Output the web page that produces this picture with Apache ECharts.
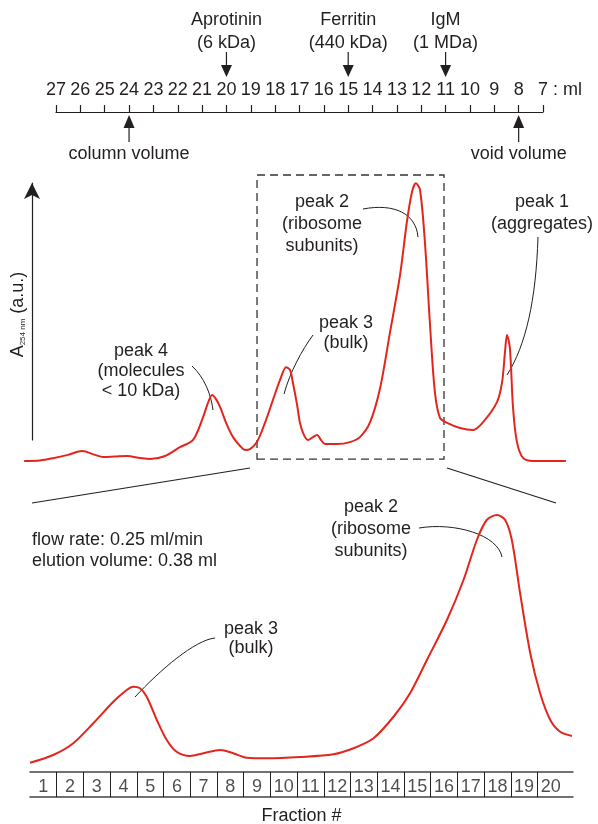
<!DOCTYPE html>
<html>
<head>
<meta charset="utf-8">
<script src="https://cdn.jsdelivr.net/npm/echarts@6/dist/echarts.min.js"></script>
<style>
  body { margin: 0; background: #fff; }
  #chart { width: 598px; height: 824px; }
</style>
</head>
<body>
<div id="chart"></div>
<script>
// upper chromatogram, elution volume (ml) vs absorbance (a.u.)
const upperMl = [28.31, 27.66, 27.12, 26.51, 25.93, 25.40, 25.07, 24.58, 24.08, 23.55,
  23.14, 22.52, 21.91, 21.37, 20.96, 20.76, 20.59, 20.43, 20.26, 19.98,
  19.73, 19.44, 19.24, 19.03, 18.75, 18.42, 18.09, 17.80, 17.55, 17.39,
  17.27, 17.10, 16.98, 16.82, 16.65, 16.45, 16.28, 16.12, 15.95, 15.46,
  14.93, 14.52, 14.10, 13.69, 13.28, 12.87, 12.59, 12.38, 12.22, 12.05,
  11.85, 11.64, 11.44, 11.23, 10.94, 10.41, 9.87, 9.46, 8.89, 8.68,
  8.56, 8.48, 8.36, 8.23, 8.07, 7.82, 7.41, 6.06];
const upperAbs = [0, 0.2, 1.0, 2.2, 3.6, 2.2, 1.4, 1.6, 1.8, 1.1,
  0.7, 1.8, 5.0, 7.6, 15.8, 20.9, 23.8, 22.3, 19.4, 13.0,
  8.6, 5.4, 4.0, 4.3, 6.8, 13.7, 22.0, 29.2, 33.8, 32.8,
  28.1, 20.2, 13.7, 9.4, 7.6, 8.6, 9.4, 7.6, 6.1, 6.1,
  6.8, 8.6, 14.0, 26.3, 46.5, 67.0, 86.1, 96.9, 100, 97.6,
  78.9, 49.0, 24.8, 15.5, 13.7, 11.9, 11.2, 14.0, 21.2, 28.4,
  39.3, 45.4, 40.7, 19.1, 6.8, 1.1, 0, 0];

// zoomed chromatogram, fraction boundary index vs absorbance
const lowerFrac = [0, 0.87, 1.62, 2.37, 3.12, 3.62, 3.87, 4.12, 4.37, 4.75,
  5.12, 5.49, 5.99, 6.49, 7.12, 7.61, 8.12, 8.87, 10.11, 11.36,
  12.11, 12.86, 13.61, 14.23, 14.86, 15.61, 16.23, 16.73, 17.10, 17.48,
  17.79, 18.04, 18.35, 18.73, 19.10, 19.48, 19.85, 20.29];
const lowerAbs = [0.5, 3.6, 8.3, 16.3, 24.9, 29.6, 30.9, 30.3, 26.9, 17.6,
  9.6, 4.9, 3.2, 4.3, 5.6, 4.3, 2.5, 2.3, 2.8, 3.9,
  6.3, 10.3, 18.9, 28.3, 41.6, 57.6, 73.6, 89.6, 97.6, 99.6,
  97.6, 89.6, 68.3, 44.3, 28.3, 17.6, 12.9, 11.2];

const fractions = [1, 2, 3, 4, 5, 6, 7, 8, 9, 10, 11, 12, 13, 14, 15, 16, 17, 18, 19, 20];

// calibration markers on the ml scale
const standards = [
  { name: 'Aprotinin', size: '(6 kDa)', ml: 20 },
  { name: 'Ferritin', size: '(440 kDa)', ml: 15 },
  { name: 'IgM', size: '(1 MDa)', ml: 11 }
];
const volumes = [
  { name: 'column volume', ml: 24 },
  { name: 'void volume', ml: 8 }
];
const zoomBox = [18.745, 11.066]; // ml range of the dashed box

const FONT = '"Liberation Sans", Arial, sans-serif';
const INK = '#231f20';
const RED = '#e2261d';

const hidden = { show: false };
const noSplit = { show: false };

const chart = echarts.init(document.getElementById('chart'));

chart.setOption({
  animation: false,
  backgroundColor: '#fff',
  textStyle: { fontFamily: FONT, color: INK },
  grid: [
    { left: 56, width: 487, top: 112, height: 20, outerBoundsMode: 'none' },
    { left: 19.5, width: 547.85, top: 175, height: 286, outerBoundsMode: 'none' },
    { left: 32, width: 10, top: 183, height: 257, outerBoundsMode: 'none' },
    { left: 30, width: 543, top: 514, height: 250, outerBoundsMode: 'none' },
    { left: 30, width: 543, top: 772, height: 25, outerBoundsMode: 'none' }
  ],
  xAxis: [
    {
      gridIndex: 0, type: 'value', min: 7, max: 27, interval: 1, inverse: true, position: 'top',
      axisLine: { onZero: false, lineStyle: { color: INK, width: 1.2 } },
      axisTick: { length: 7, lineStyle: { color: INK, width: 1.2 } },
      axisLabel: { margin: 13, fontSize: 18, color: INK, fontFamily: FONT },
      splitLine: noSplit
    },
    { gridIndex: 1, type: 'value', min: 6, max: 28.5, inverse: true, show: false, splitLine: noSplit },
    { gridIndex: 2, type: 'value', min: 0, max: 1, show: false, splitLine: noSplit },
    { gridIndex: 3, type: 'value', min: 0, max: 20.33, show: false, splitLine: noSplit },
    {
      gridIndex: 4, type: 'value', min: 0, max: 20.33, position: 'bottom',
      axisLine: { onZero: false, lineStyle: { color: '#444', width: 1.5 } },
      axisTick: { inside: true, length: 25, customValues: fractions.slice(0, 19), lineStyle: { color: INK, width: 1 } },
      axisLabel: hidden,
      splitLine: noSplit,
      name: 'Fraction #', nameLocation: 'middle', nameGap: 10,
      nameTextStyle: { fontSize: 18, color: INK, fontFamily: FONT }
    },
    {
      gridIndex: 4, type: 'value', min: 0, max: 20.33, position: 'top',
      axisLine: { onZero: false, lineStyle: { color: '#444', width: 1.5 } },
      axisTick: hidden, axisLabel: hidden, splitLine: noSplit
    }
  ],
  yAxis: [
    { gridIndex: 0, type: 'value', show: false, splitLine: noSplit },
    { gridIndex: 1, type: 'value', min: 0, max: 103, show: false, splitLine: noSplit },
    {
      gridIndex: 2, type: 'value', min: 0, max: 1,
      axisLine: { show: true, onZero: false, symbol: ['none', 'arrow'], symbolSize: [12, 16], lineStyle: { color: INK, width: 1.2 } },
      axisTick: hidden, axisLabel: hidden, splitLine: noSplit,
      name: '{a|A}{s|254 nm}{a| (a.u.)}', nameLocation: 'middle', nameRotate: 90, nameGap: 5,
      nameTextStyle: {
        padding: [0, 0, 0, -6],
        rich: {
          a: { fontSize: 18, color: INK, fontFamily: FONT },
          s: { fontSize: 8, color: INK, fontFamily: FONT, verticalAlign: 'bottom', lineHeight: 8 }
        }
      }
    },
    { gridIndex: 3, type: 'value', min: 0, max: 100, show: false, splitLine: noSplit },
    { gridIndex: 4, type: 'value', min: 0, max: 1, show: false, splitLine: noSplit }
  ],
  series: [
    {
      type: 'line', xAxisIndex: 1, yAxisIndex: 1,
      data: upperMl.map((m, i) => [m, upperAbs[i]]),
      smooth: 0.3, symbol: 'none',
      lineStyle: { color: RED, width: 2 },
      markArea: {
        silent: true,
        itemStyle: { color: 'rgba(0,0,0,0)', borderColor: '#333', borderWidth: 1.3, borderType: [8, 5] },
        data: [[{ xAxis: zoomBox[0], yAxis: 0.7 }, { xAxis: zoomBox[1], yAxis: 103 }]]
      }
    },
    {
      type: 'line', xAxisIndex: 3, yAxisIndex: 3,
      data: lowerFrac.map((f, i) => [f, lowerAbs[i]]),
      smooth: 0.3, symbol: 'none',
      lineStyle: { color: RED, width: 2 }
    },
    {
      // fraction numbers written in the middle of each cell
      type: 'scatter', xAxisIndex: 4, yAxisIndex: 4, silent: true,
      symbolSize: 0,
      data: fractions.map(f => [f - 0.5, 0.4, f]),
      label: {
        show: true, position: 'inside', fontSize: 18, color: INK, fontFamily: FONT,
        align: 'center', verticalAlign: 'middle',
        formatter: p => String(p.value[2])
      }
    }
  ]
});

// annotations
const px = ml => chart.convertToPixel({ xAxisIndex: 0 }, ml);

function label(x, y, text, align, lh) {
  return {
    type: 'text', x: x, y: y, silent: true,
    style: {
      text: text, fill: INK, font: '18px ' + FONT,
      align: align || 'center', verticalAlign: 'middle',
      textAlign: align || 'center', textVerticalAlign: 'middle',
      lineHeight: lh || 22
    }
  };
}
function line(x1, y1, x2, y2, w) {
  return { type: 'line', silent: true, shape: { x1, y1, x2, y2 }, style: { stroke: INK, lineWidth: w || 1.2 } };
}
function curve(p) {
  return {
    type: 'bezierCurve', silent: true,
    shape: { x1: p[0], y1: p[1], cpx1: p[2], cpy1: p[3], cpx2: p[4], cpy2: p[5], x2: p[6], y2: p[7] },
    style: { stroke: INK, lineWidth: 1, fill: null }
  };
}
function tri(pts) {
  return { type: 'polygon', silent: true, shape: { points: pts }, style: { fill: INK } };
}

const g = [];
standards.forEach(s => {
  const x = px(s.ml);
  g.push(label(x, 31.5, s.name + '\n' + s.size, 'center', 23));
  g.push(line(x, 52, x, 66));
  g.push(tri([[x - 5.5, 65], [x + 5.5, 65], [x, 77]]));
});
volumes.forEach(v => {
  const x = px(v.ml);
  g.push(label(x, 154, v.name));
  g.push(line(x, 127, x, 142));
  g.push(tri([[x, 115], [x - 5.5, 128], [x + 5.5, 128]]));
});
g.push(label(553, 90, ': ml', 'left'));

// upper panel labels
g.push(label(322, 224, 'peak 2\n(ribosome\nsubunits)', 'center', 22));
g.push(curve([363, 209, 395, 203, 416, 214, 418, 237]));
g.push(label(542, 213.5, 'peak 1\n(aggregates)', 'center', 22));
g.push(curve([538, 237, 536, 300, 526, 345, 507, 375]));
g.push(label(346, 333, 'peak 3\n(bulk)', 'center', 20));
g.push(curve([313, 335, 302, 350, 290, 372, 284, 394]));
g.push(label(141, 371.5, 'peak 4\n(molecules\n< 10 kDa)', 'center', 20));
g.push(curve([192, 366, 204, 377, 211, 394, 213, 410]));

// zoom connectors
g.push(line(250, 468, 32, 503));
g.push(line(447, 468, 556, 503));

// lower panel labels
g.push(label(32, 550.5, 'flow rate: 0.25 ml/min\nelution volume: 0.38 ml', 'left', 21));
g.push(label(371, 529, 'peak 2\n(ribosome\nsubunits)', 'center', 22));
g.push(curve([419, 528, 455, 522, 498, 535, 502, 557]));
g.push(label(251, 639, 'peak 3\n(bulk)', 'center', 19));
g.push(curve([215, 638, 195, 640, 160, 670, 135, 697]));

chart.setOption({ graphic: { elements: g } });
</script>
</body>
</html>
